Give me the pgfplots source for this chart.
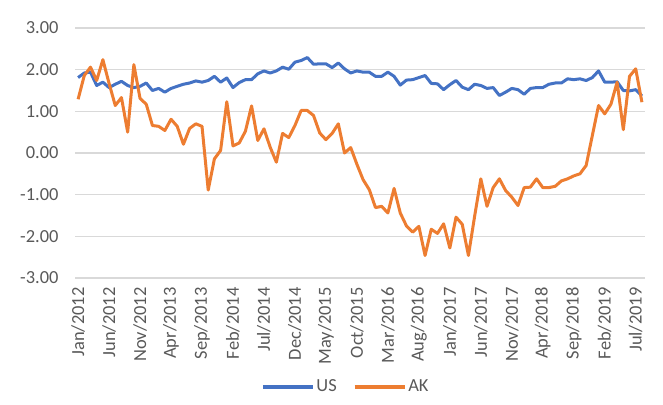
\documentclass[border=0pt]{standalone}
\usepackage{pgfplots}
\pgfplotsset{compat=1.18}
\usepackage{pgfplotstable}
\usepackage{fontspec}
\setmainfont{Carlito}
\definecolor{usblue}{HTML}{4472C4}
\definecolor{akorange}{HTML}{ED7D31}
\definecolor{txtgray}{HTML}{595959}
\definecolor{gridgray}{HTML}{D9D9D9}
\pgfplotstableread{
i US AK
0 1.81 1.29
1 1.92 1.86
2 1.94 2.06
3 1.62 1.74
4 1.70 2.24
5 1.57 1.67
6 1.65 1.14
7 1.72 1.33
8 1.62 0.50
9 1.57 2.12
10 1.60 1.31
11 1.68 1.17
12 1.50 0.66
13 1.55 0.64
14 1.46 0.54
15 1.55 0.81
16 1.60 0.64
17 1.65 0.21
18 1.68 0.59
19 1.73 0.70
20 1.70 0.64
21 1.74 -0.89
22 1.84 -0.14
23 1.70 0.06
24 1.80 1.23
25 1.57 0.17
26 1.69 0.24
27 1.76 0.52
28 1.76 1.13
29 1.90 0.30
30 1.97 0.58
31 1.92 0.14
32 1.97 -0.22
33 2.06 0.47
34 2.01 0.37
35 2.18 0.66
36 2.22 1.02
37 2.29 1.02
38 2.13 0.90
39 2.14 0.48
40 2.14 0.32
41 2.05 0.47
42 2.16 0.70
43 2.02 0.00
44 1.92 0.13
45 1.97 -0.27
46 1.94 -0.64
47 1.94 -0.88
48 1.84 -1.31
49 1.84 -1.28
50 1.94 -1.44
51 1.84 -0.85
52 1.63 -1.44
53 1.75 -1.75
54 1.76 -1.90
55 1.81 -1.76
56 1.86 -2.46
57 1.67 -1.83
58 1.66 -1.93
59 1.52 -1.70
60 1.64 -2.28
61 1.74 -1.54
62 1.58 -1.71
63 1.52 -2.46
64 1.65 -1.52
65 1.62 -0.62
66 1.55 -1.28
67 1.57 -0.83
68 1.38 -0.62
69 1.46 -0.90
70 1.55 -1.06
71 1.52 -1.26
72 1.41 -0.83
73 1.55 -0.82
74 1.57 -0.62
75 1.57 -0.83
76 1.65 -0.83
77 1.68 -0.80
78 1.68 -0.67
79 1.78 -0.62
80 1.76 -0.55
81 1.78 -0.50
82 1.74 -0.30
83 1.81 0.42
84 1.97 1.14
85 1.70 0.94
86 1.70 1.17
87 1.71 1.70
88 1.50 0.56
89 1.49 1.84
90 1.52 2.02
91 1.37 1.22
}\datatable
\begin{document}
\begin{tikzpicture}
\path[use as bounding box] (0,0) rectangle (663bp,405bp);
\begin{axis}[
  at={(75bp,127bp)}, anchor=south west,
  scale only axis, width=570bp, height=250bp,
  xmin=-0.5, xmax=91.5, ymin=-3, ymax=3,
  axis line style={draw=none},
  major tick length=0pt,
  ymajorgrids, grid style={draw=gridgray, line width=1.1bp},
  ytick={-3,-2,-1,0,1,2,3},
  yticklabels={-3.00,-2.00,-1.00,0.00,1.00,2.00,3.00},
  y tick label style={font=\fontsize{18.5}{20}\selectfont, text=txtgray, xshift=-13bp},
  xtick={0,5,...,90},
  xticklabels={Jan/2012,Jun/2012,Nov/2012,Apr/2013,Sep/2013,Feb/2014,Jul/2014,Dec/2014,May/2015,Oct/2015,Mar/2016,Aug/2016,Jan/2017,Jun/2017,Nov/2017,Apr/2018,Sep/2018,Feb/2019,Jul/2019},
  x tick label style={font=\fontsize{18.5}{20}\selectfont, text=txtgray, rotate=90, anchor=east, yshift=0bp, xshift=-6bp},
  legend style={at={(0.475,-0.435)}, anchor=center, draw=none, fill=none,
    legend columns=2, font=\fontsize{18.5}{20}\selectfont, text=txtgray,
    /tikz/every even column/.append style={column sep=14bp}},
  legend cell align=left,
  legend image code/.code={\draw[#1, line width=3.5bp] (0bp,0bp) -- (50bp,0bp);},
]
\addplot[usblue, line width=3bp, line join=round] table[x=i, y=US] {\datatable};
\addlegendentry{US}
\addplot[akorange, line width=3bp, line join=round] table[x=i, y=AK] {\datatable};
\addlegendentry{AK}
\end{axis}
\end{tikzpicture}
\end{document}
